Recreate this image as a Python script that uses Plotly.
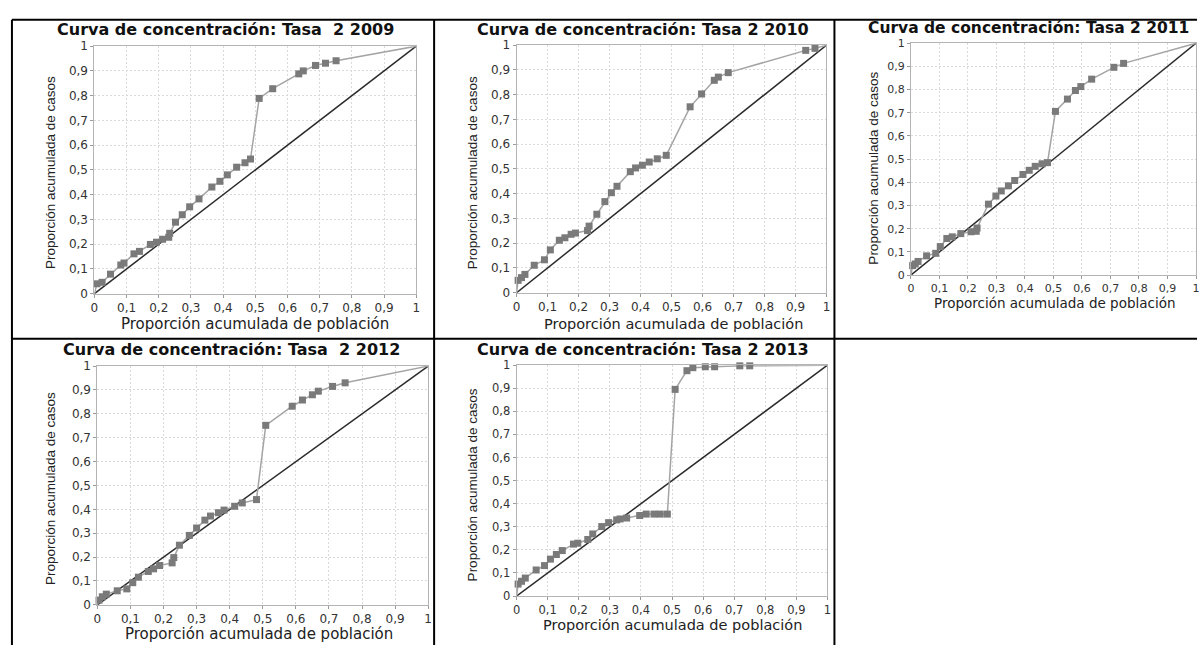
import plotly.graph_objects as go

W, H = 1201, 652

# ---- data: cumulative population share (x) vs cumulative case share (y) ----
years = ["2009", "2010", "2011", "2012", "2013"]
titles = [
    "Curva de concentración: Tasa  2 2009",
    "Curva de concentración: Tasa 2 2010",
    "Curva de concentración: Tasa 2 2011",
    "Curva de concentración: Tasa  2 2012",
    "Curva de concentración: Tasa 2 2013",
]

x_2009 = [0.008, 0.024, 0.05, 0.082, 0.092, 0.123, 0.14, 0.174, 0.193, 0.212, 0.231, 0.234,
          0.252, 0.273, 0.296, 0.325, 0.365, 0.39, 0.413, 0.442, 0.468, 0.485, 0.512, 0.554,
          0.635, 0.649, 0.687, 0.718, 0.751]
y_2009 = [0.04, 0.046, 0.079, 0.116, 0.124, 0.161, 0.171, 0.199, 0.208, 0.22, 0.228, 0.244,
          0.289, 0.319, 0.351, 0.383, 0.431, 0.454, 0.48, 0.511, 0.529, 0.544, 0.789, 0.828,
          0.888, 0.9, 0.922, 0.931, 0.941]

x_2010 = [0.005, 0.016, 0.027, 0.057, 0.09, 0.109, 0.138, 0.156, 0.176, 0.19, 0.229, 0.234,
          0.259, 0.285, 0.306, 0.324, 0.367, 0.384, 0.406, 0.428, 0.454, 0.483, 0.56, 0.597,
          0.638, 0.651, 0.683, 0.933, 0.963]
y_2010 = [0.05, 0.061, 0.074, 0.111, 0.133, 0.173, 0.212, 0.222, 0.236, 0.241, 0.251, 0.269,
          0.317, 0.368, 0.404, 0.43, 0.489, 0.504, 0.515, 0.528, 0.541, 0.555, 0.751, 0.803,
          0.858, 0.871, 0.889, 0.979, 0.987]

x_2011 = [0.006, 0.015, 0.025, 0.055, 0.087, 0.103, 0.126, 0.145, 0.175, 0.211, 0.229, 0.232,
          0.272, 0.298, 0.317, 0.342, 0.364, 0.393, 0.415, 0.436, 0.46, 0.479, 0.507, 0.549,
          0.577, 0.596, 0.634, 0.712, 0.746]
y_2011 = [0.041, 0.048, 0.059, 0.083, 0.094, 0.123, 0.158, 0.165, 0.179, 0.187, 0.189, 0.203,
          0.306, 0.341, 0.363, 0.385, 0.408, 0.434, 0.452, 0.469, 0.48, 0.485, 0.706, 0.759,
          0.796, 0.813, 0.845, 0.896, 0.913]

x_2012 = [0.005, 0.015, 0.027, 0.06, 0.089, 0.107, 0.124, 0.154, 0.17, 0.188, 0.226, 0.231,
          0.248, 0.278, 0.3, 0.325, 0.342, 0.366, 0.383, 0.415, 0.438, 0.481, 0.509, 0.589,
          0.62, 0.65, 0.668, 0.711, 0.749]
y_2012 = [0.02, 0.034, 0.045, 0.059, 0.067, 0.093, 0.116, 0.14, 0.151, 0.165, 0.176, 0.198,
          0.25, 0.291, 0.322, 0.355, 0.372, 0.386, 0.397, 0.413, 0.427, 0.441, 0.752, 0.832,
          0.858, 0.88, 0.895, 0.915, 0.93]

x_2013 = [0.005, 0.016, 0.028, 0.063, 0.09, 0.109, 0.128, 0.147, 0.183, 0.197, 0.229, 0.245,
          0.274, 0.296, 0.322, 0.333, 0.354, 0.396, 0.417, 0.442, 0.462, 0.485, 0.51, 0.548,
          0.567, 0.607, 0.637, 0.718, 0.75]
y_2013 = [0.052, 0.064, 0.078, 0.113, 0.132, 0.16, 0.18, 0.197, 0.225, 0.229, 0.245, 0.269,
          0.301, 0.318, 0.33, 0.334, 0.338, 0.349, 0.355, 0.355, 0.355, 0.355, 0.895, 0.976,
          0.989, 0.993, 0.993, 0.997, 0.997]

# equality line
eq_x = [0, 1]
eq_y = [0, 1]

tick_vals = [0, 0.1, 0.2, 0.3, 0.4, 0.5, 0.6, 0.7, 0.8, 0.9, 1]
tick_text = ["0", "0,1", "0,2", "0,3", "0,4", "0,5", "0,6", "0,7", "0,8", "0,9", "1"]

x_label = "Proporción acumulada de población"
y_label = "Proporción acumulada de casos"

series = [(x_2009, y_2009), (x_2010, y_2010), (x_2011, y_2011), (x_2012, y_2012), (x_2013, y_2013)]

# ---- layout geometry (pixels) ----
# plot areas: (left, right, top, bottom)
areas = [
    (91, 415, 40, 293),
    (516, 828, 39, 292),
    (913, 1200, 37, 274),
    (94, 427, 367, 611),
    (516, 829, 366, 602),
]
# title centre (x, y), x-title centre (x, y), y-title centre (x, y)
title_pos = [(223, 23), (643, 23), (1031, 21), (229, 350), (643, 350)]
xtitle_pos = [(253, 324), (674, 324), (1058, 303), (257, 641), (673, 632)]
ytitle_pos = [(47, 169), (472, 169), (875, 165), (47, 492), (472, 488)]
# per-panel font sizes: title, x-title, tick labels
title_size = [16, 16, 15.5, 16, 16]
xtitle_size = [15, 14.5, 13.5, 15, 14.5]
tick_size = [12, 12, 11, 12, 11.5]

def fx(px):
    return px / W

def fy(py):
    return 1 - py / H

fig = go.Figure()
layout = dict(
    width=W, height=H,
    margin=dict(l=0, r=0, t=0, b=0),
    paper_bgcolor="white", plot_bgcolor="white",
    showlegend=False,
    font=dict(family="DejaVu Sans", color="#333333"),
)

annotations = []
for i, ((xs, ys), (l, r, t, b)) in enumerate(zip(series, areas)):
    n = i + 1
    xa = "x" if n == 1 else f"x{n}"
    ya = "y" if n == 1 else f"y{n}"
    # diagonal of equality
    fig.add_trace(go.Scatter(x=eq_x, y=eq_y, mode="lines", xaxis=xa, yaxis=ya,
                             line=dict(color="#2a2a2a", width=1.5), hoverinfo="skip"))
    # concentration curve from origin to (1,1)
    fig.add_trace(go.Scatter(x=[0] + xs + [1], y=[0] + ys + [1], mode="lines",
                             xaxis=xa, yaxis=ya,
                             line=dict(color="#a4a4a4", width=1.5)))
    fig.add_trace(go.Scatter(x=xs, y=ys, mode="markers", xaxis=xa, yaxis=ya,
                             marker=dict(symbol="square", size=7, color="#7a7a7a",
                                         line=dict(width=0)),
                             cliponaxis=False))
    axis_common = dict(
        range=[0, 1], tickvals=tick_vals, ticktext=tick_text,
        showgrid=True, gridcolor="#dadada", griddash="2px,2px", gridwidth=1,
        showline=True, linecolor="#b4b4b4", linewidth=1, mirror=True,
        ticks="outside", ticklen=3, tickcolor="#9a9a9a",
        tickfont=dict(family="DejaVu Sans", size=tick_size[i], color="#333333"),
        zeroline=False, fixedrange=True,
    )
    layout["xaxis" if n == 1 else f"xaxis{n}"] = dict(
        axis_common, domain=[fx(l), fx(r)], anchor=ya)
    layout["yaxis" if n == 1 else f"yaxis{n}"] = dict(
        axis_common, domain=[fy(b), fy(t)], anchor=xa)

    tx, ty = title_pos[i]
    annotations.append(dict(text="<b>" + titles[i] + "</b>", x=fx(tx), y=fy(ty),
                            xref="paper", yref="paper", showarrow=False,
                            xanchor="center", yanchor="middle",
                            font=dict(family="DejaVu Sans", size=title_size[i], color="#111111")))
    ax, ay = xtitle_pos[i]
    annotations.append(dict(text=x_label, x=fx(ax), y=fy(ay), xref="paper", yref="paper",
                            showarrow=False, xanchor="center", yanchor="middle",
                            font=dict(family="DejaVu Sans", size=xtitle_size[i], color="#222222")))
    bx, by = ytitle_pos[i]
    annotations.append(dict(text=y_label, x=fx(bx), y=fy(by), xref="paper", yref="paper",
                            showarrow=False, xanchor="center", yanchor="middle", textangle=-90,
                            font=dict(family="Liberation Sans", size=13.5, color="#222222")))

layout["annotations"] = annotations

# table cell borders
border = dict(color="black", width=2)
grid_lines = [
    (8, 13, 1201, 13),
    (8, 339, 1201, 339),
    (8, 13, 8, 652),
    (433, 13, 433, 652),
    (836, 13, 836, 652),
]
layout["shapes"] = [
    dict(type="line", xref="paper", yref="paper", x0=fx(a), y0=fy(b), x1=fx(c), y1=fy(d),
         line=border, layer="above")
    for a, b, c, d in grid_lines
]

fig.update_layout(**layout)
fig.write_html("out.html")
